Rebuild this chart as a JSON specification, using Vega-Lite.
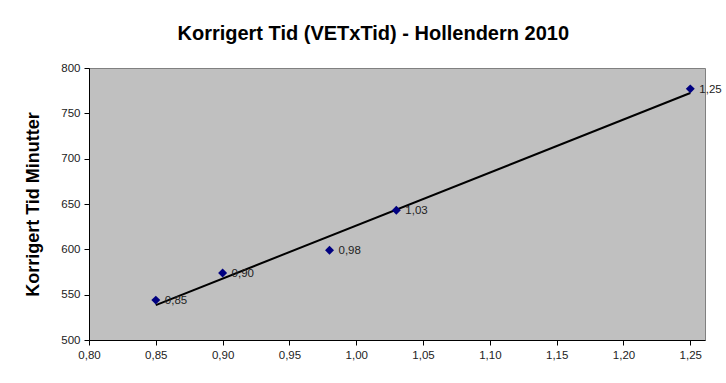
{
  "$schema": "https://vega.github.io/schema/vega-lite/v6.json",
  "width": 616,
  "height": 272,
  "autosize": {"type": "none"},
  "padding": {"left": 89, "top": 68, "right": 21, "bottom": 43},
  "background": "white",
  "config": {
    "locale": {"number": {"decimal": ",", "thousands": ".", "grouping": [3], "currency": ["", " kr"]}},
    "view": {"fill": "#C0C0C0", "stroke": "#808080", "strokeWidth": 1},
    "font": "Liberation Sans"
  },
  "title": {
    "text": "Korrigert Tid (VETxTid) - Hollendern 2010",
    "font": "Liberation Sans",
    "fontSize": 20,
    "fontWeight": "bold",
    "color": "black",
    "anchor": "middle",
    "frame": "bounds",
    "offset": 18
  },
  "data": {
    "values": [
      {"faktor": 0.85, "tid": 544},
      {"faktor": 0.90, "tid": 574},
      {"faktor": 0.98, "tid": 599},
      {"faktor": 1.03, "tid": 643},
      {"faktor": 1.25, "tid": 777}
    ]
  },
  "encoding": {
    "x": {
      "field": "faktor", "type": "quantitative",
      "scale": {"domain": [0.8, 1.261], "nice": false, "zero": false},
      "axis": {"values": [0.8, 0.85, 0.9, 0.95, 1.0, 1.05, 1.1, 1.15, 1.2, 1.25], "format": ".2f", "title": null,
        "grid": false, "domainColor": "black", "tickColor": "black", "tickSize": 5,
        "labelFont": "Liberation Sans", "labelFontSize": 11.5, "labelColor": "#222", "labelPadding": 4, "labelFlush": false}
    },
    "y": {
      "field": "tid", "type": "quantitative",
      "scale": {"domain": [500, 800], "nice": false, "zero": false},
      "axis": {"values": [500, 550, 600, 650, 700, 750, 800], "title": "Korrigert Tid Minutter",
        "grid": false, "domainColor": "black", "tickColor": "black", "tickSize": 5,
        "labelFont": "Liberation Sans", "labelFontSize": 11.5, "labelColor": "#222", "labelPadding": 4,
        "titleFont": "Liberation Sans", "titleFontSize": 18, "titleFontWeight": "bold", "titleColor": "black", "titlePadding": 18}
    }
  },
  "layer": [
    {
      "transform": [{"regression": "tid", "on": "faktor", "method": "linear"}],
      "mark": {"type": "line", "color": "black", "strokeWidth": 2}
    },
    {
      "mark": {"type": "point", "shape": "diamond", "filled": true, "color": "#000080", "size": 80, "opacity": 1}
    },
    {
      "mark": {"type": "text", "align": "left", "baseline": "middle", "dx": 9, "dy": 1, "fontSize": 11.5, "font": "Liberation Sans", "color": "#222"},
      "encoding": {"text": {"field": "faktor", "type": "quantitative", "format": ".2f"}}
    }
  ]
}
